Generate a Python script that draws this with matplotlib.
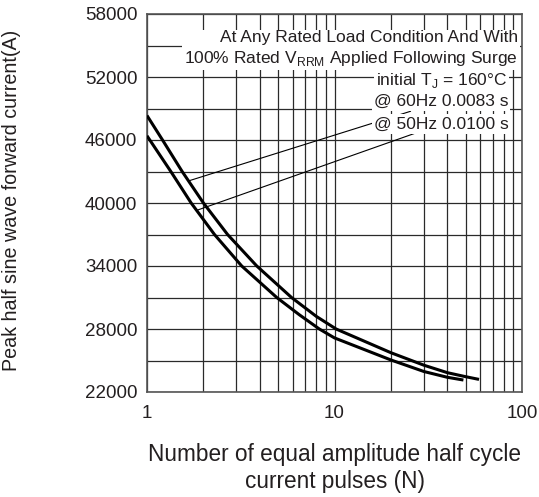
import matplotlib
matplotlib.use("Agg")
import matplotlib.pyplot as plt
from matplotlib.ticker import FixedLocator, NullFormatter, FixedFormatter

plt.rcParams['font.family'] = ['Liberation Sans', 'DejaVu Sans']

# data
n_60hz = [1, 1.21, 1.54, 2.0, 2.69, 3.85, 5.9, 8, 10.2, 20, 30, 40, 50, 59]
a_60hz = [48330, 46000, 43000, 40000, 37000, 34000, 31000, 29200, 28000, 25740, 24550, 23840, 23460, 23200]
n_50hz = [1, 1.34, 1.72, 2.29, 3.2, 4.92, 6.5, 8.3, 10, 20, 30, 40, 48.7]
a_50hz = [46400, 43000, 40000, 37000, 34000, 31000, 29350, 28000, 27150, 25050, 23950, 23400, 23140]

y_ticks = [22000, 28000, 34000, 40000, 46000, 52000, 58000]
y_grid = list(range(22000, 58001, 3000))
x_ticks = [1, 10, 100]
x_tick_labels = ["1", "10", "100"]

ann_lines = "At Any Rated Load Condition And With\n100% Rated V$_{\\mathregular{RRM}}$ Applied Following Surge"
ann_tj = "initial T$_{\\mathregular{J}}$ = 160°C"
ann_60 = "@ 60Hz 0.0083 s"
ann_50 = "@ 50Hz 0.0100 s"

TXT = '#231f20'
fig = plt.figure(figsize=(5.39, 4.97), dpi=100)
ax = fig.add_axes([147/539, 1-392/497, 375/539, 378/497])
ax.set_xscale('log')
ax.set_xlim(1, 100)
ax.set_ylim(22000, 58000)

minor_x = [m * d for d in (1, 10) for m in range(2, 10)]
ax.xaxis.set_major_locator(FixedLocator(x_ticks))
ax.xaxis.set_major_formatter(FixedFormatter(x_tick_labels))
ax.xaxis.set_minor_locator(FixedLocator(minor_x))
ax.xaxis.set_minor_formatter(NullFormatter())
ax.yaxis.set_major_locator(FixedLocator(y_ticks))
ax.yaxis.set_minor_locator(FixedLocator(y_grid))
ax.yaxis.set_major_formatter(FixedFormatter([str(v) for v in y_ticks]))

ax.grid(True, which='both', color='#2a2a2a', lw=0.9)
ax.set_axisbelow(True)
ax.tick_params(which='both', length=0, labelsize=13.5, colors=TXT)
ax.tick_params(axis='x', pad=9)
ax.tick_params(axis='y', pad=7)
for s in ax.spines.values():
    s.set_color('#555555')
    s.set_linewidth(1.2)

ax.plot(n_60hz, a_60hz, color='black', lw=2.2, solid_capstyle='butt',
        solid_joinstyle='round', zorder=3)
ax.plot(n_50hz, a_50hz, color='black', lw=2.2, solid_capstyle='butt',
        solid_joinstyle='round', zorder=3)

FS = 12.5
bb = dict(facecolor='white', edgecolor='none', pad=1.5)
ax.text(0.99, 0.907, ann_lines, transform=ax.transAxes, ha='right', va='center',
        multialignment='right', fontsize=FS, color=TXT, bbox=bb, zorder=4,
        linespacing=1.25)
ax.text(0.96, 0.825, ann_tj, transform=ax.transAxes, ha='right', va='center',
        fontsize=FS, color=TXT, bbox=bb, zorder=4)
ax.annotate(ann_60, xy=(1.68, 42124), xytext=(0.605, 0.768),
            textcoords='axes fraction', ha='left', va='center',
            fontsize=FS, color=TXT, bbox=bb, zorder=4,
            arrowprops=dict(arrowstyle='-', color='black', lw=0.8,
                            shrinkA=0, shrinkB=0))
ax.annotate(ann_50, xy=(1.864, 39333), xytext=(0.605, 0.709),
            textcoords='axes fraction', ha='left', va='center',
            fontsize=FS, color=TXT, bbox=bb, zorder=4,
            arrowprops=dict(arrowstyle='-', color='black', lw=0.8,
                            shrinkA=0, shrinkB=0))

fig.text(12/539, 1-200/497, "Peak half sine wave forward current(A)", rotation=90,
         ha='center', va='center', fontsize=14.2, color=TXT)
fig.text(335/539, 1-460.7/497, "Number of equal amplitude half cycle", ha='center',
         va='baseline', fontsize=16.3, color=TXT)
fig.text(335/539, 1-488/497, "current pulses (N)", ha='center',
         va='baseline', fontsize=16.3, color=TXT)

fig.savefig('out.png', dpi=100)
